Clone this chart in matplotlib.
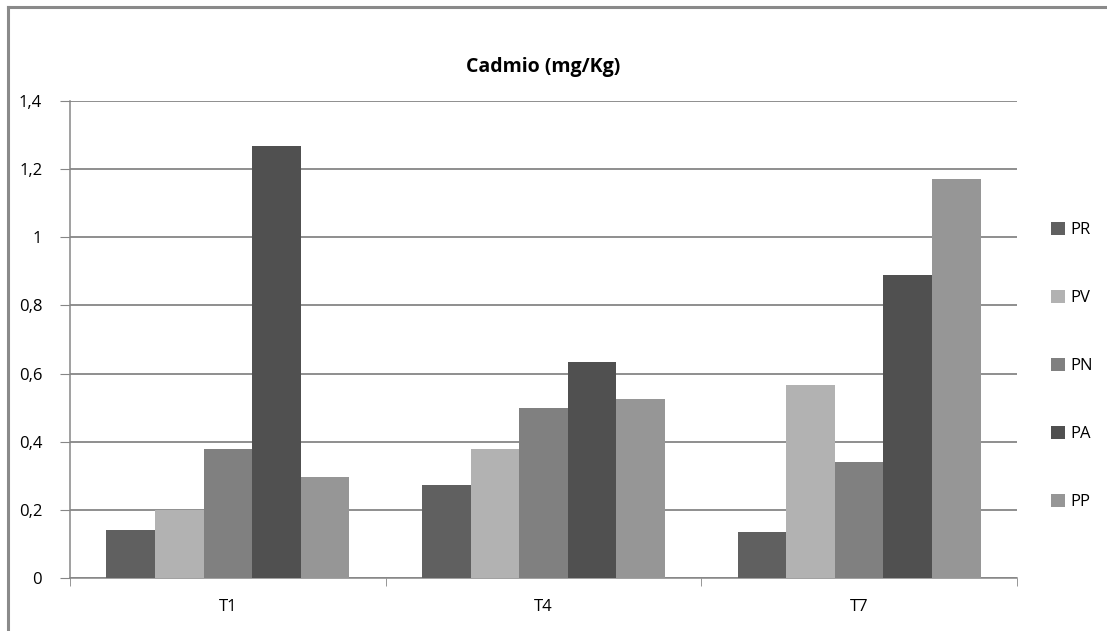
import matplotlib
matplotlib.use("Agg")
import matplotlib.pyplot as plt
from matplotlib.ticker import FuncFormatter
from matplotlib.lines import Line2D
import numpy as np

categories = ["T1", "T4", "T7"]
series = ["PR", "PV", "PN", "PA", "PP"]
PR = [0.14, 0.273, 0.135]
PV = [0.20, 0.38, 0.566]
PN = [0.38, 0.50, 0.34]
PA = [1.268, 0.634, 0.889]
PP = [0.296, 0.525, 1.171]
colors = ["#606060", "#b2b2b2", "#808080", "#505050", "#969696"]

values = [PR, PV, PN, PA, PP]
grid_col = "#868686"

plt.rcParams['font.family'] = ['Open Sans', 'DejaVu Sans']

fig = plt.figure(figsize=(11.07, 6.31), dpi=100)
ax = fig.add_axes([70 / 1107, 53 / 631, 947 / 1107, 477 / 631])

x = np.arange(len(categories))
w = 1 / 6.5
for i, (name, vals) in enumerate(zip(series, values)):
    ax.bar(x + (i - 2) * w, vals, width=w, color=colors[i], label=name, zorder=3)

ax.set_xlim(-0.5, 2.5)
ax.set_ylim(0, 1.4)
ax.set_yticks(np.arange(0, 1.41, 0.2))
ax.yaxis.set_major_formatter(FuncFormatter(lambda v, p: ("%g" % round(v, 1)).replace(".", ",")))
ax.yaxis.grid(True, color=grid_col, linewidth=1.3, zorder=0)
ax.tick_params(axis='y', direction='out', length=7, color=grid_col, labelsize=12, pad=13)

ax.set_xticks(x)
ax.set_xticklabels(categories)
ax.set_xticks([-0.5, 0.5, 1.5, 2.5], minor=True)
ax.tick_params(axis='x', which='major', length=0, labelsize=12, pad=15)
ax.tick_params(axis='x', which='minor', direction='out', length=6, color=grid_col)

for s in ["top", "right"]:
    ax.spines[s].set_visible(False)
for s in ["left", "bottom"]:
    ax.spines[s].set_color(grid_col)
    ax.spines[s].set_linewidth(1.1)

ax.set_title("Cadmio (mg/Kg)", fontsize=14, fontweight='bold', pad=21)

fig.legend(loc='center left', bbox_to_anchor=(1036 / 1107, (631 - 366) / 631),
           frameon=False, fontsize=12, handlelength=0.85, handleheight=0.85,
           handletextpad=0.3, labelspacing=3.1)

# outer chart frame
fig.add_artist(Line2D([8 / 1107, 8 / 1107], [0, 1 - 7 / 631], color="#8a8a8a", linewidth=2.2))
fig.add_artist(Line2D([8 / 1107, 1], [1 - 7 / 631, 1 - 7 / 631], color="#8a8a8a", linewidth=2.2))

fig.savefig("out.png", dpi=100)
